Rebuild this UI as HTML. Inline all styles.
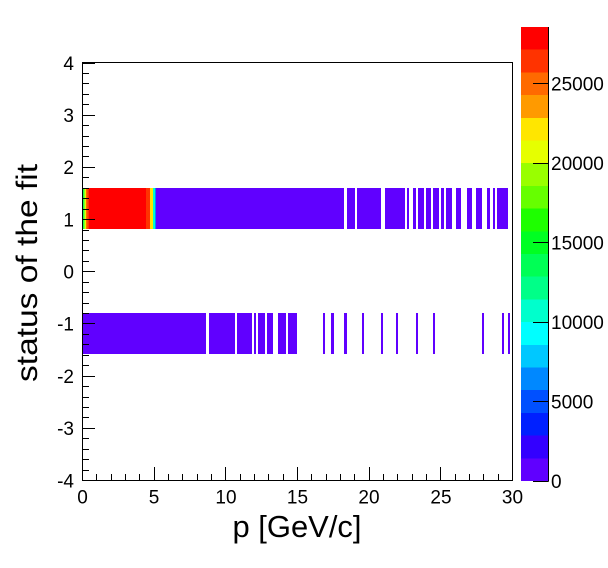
<!DOCTYPE html>
<html><head><meta charset="utf-8"><style>
html,body{margin:0;padding:0;background:#fff;}
svg{display:block;}
text{font-family:"Liberation Sans",Arial,sans-serif;fill:#000;}
</style></head><body>
<svg width="608" height="568" viewBox="0 0 608 568" xmlns="http://www.w3.org/2000/svg">
<rect x="0" y="0" width="608" height="568" fill="#fff"/>
<!-- upper band y 188-229 -->
<g shape-rendering="crispEdges">
<rect x="83" y="188" width="1.5" height="41" fill="#22ff44"/>
<rect x="84.5" y="188" width="1.5" height="41" fill="#e6ff00"/>
<rect x="86" y="188" width="1.5" height="41" fill="#ff6a00"/>
<rect x="87.5" y="188" width="1.5" height="41" fill="#ff3300"/>
<rect x="89" y="188" width="57" height="41" fill="#ff0000"/>
<rect x="146" y="188" width="4" height="41" fill="#ff3300"/>
<rect x="150" y="188" width="3" height="41" fill="#ffe600"/>
<rect x="153" y="188" width="2" height="41" fill="#00ffcc"/>
<rect x="155" y="188" width="1" height="41" fill="#0088ff"/>
<g fill="#6000ff">
<rect x="156" y="188" width="188" height="41"/>
<rect x="347" y="188" width="8" height="41"/>
<rect x="357" y="188" width="24" height="41"/>
<rect x="385" y="188" width="20" height="41"/>
<rect x="407" y="188" width="2" height="41"/>
<rect x="413" y="188" width="3" height="41"/>
<rect x="418" y="188" width="6" height="41"/>
<rect x="426" y="188" width="5" height="41"/>
<rect x="433" y="188" width="6" height="41"/>
<rect x="441" y="188" width="3" height="41"/>
<rect x="446" y="188" width="6" height="41"/>
<rect x="456" y="188" width="5" height="41"/>
<rect x="467" y="188" width="5" height="41"/>
<rect x="476" y="188" width="6" height="41"/>
<rect x="487" y="188" width="3" height="41"/>
<rect x="493" y="188" width="2" height="41"/>
<rect x="497" y="188" width="11" height="41"/>
<!-- lower band -->
<rect x="83" y="313" width="123" height="41"/>
<rect x="209" y="313" width="26" height="41"/>
<rect x="237" y="313" width="15" height="41"/>
<rect x="254" y="313" width="2" height="41"/>
<rect x="258" y="313" width="7" height="41"/>
<rect x="267" y="313" width="6" height="41"/>
<rect x="278" y="313" width="8" height="41"/>
<rect x="288" y="313" width="9" height="41"/>
<rect x="323" y="313" width="2" height="41"/>
<rect x="331" y="313" width="3" height="41"/>
<rect x="344" y="313" width="3" height="41"/>
<rect x="362" y="313" width="2" height="41"/>
<rect x="381" y="313" width="2" height="41"/>
<rect x="396" y="313" width="2" height="41"/>
<rect x="416" y="313" width="2" height="41"/>
<rect x="433" y="313" width="2" height="41"/>
<rect x="482" y="313" width="2" height="41"/>
<rect x="502" y="313" width="2" height="41"/>
<rect x="508" y="313" width="2" height="41"/>
</g>
</g>
<!-- frame -->
<rect x="82.5" y="62.5" width="430" height="418" fill="none" stroke="#000" stroke-width="1"/>
<!-- y ticks -->
<path stroke="#000" stroke-width="1" fill="none" d="
M82 63.5H95 M82 73.5H89 M82 83.5H89 M82 94.5H89 M82 104.5H89
M82 115.5H95 M82 125.5H89 M82 136.5H89 M82 146.5H89 M82 156.5H89
M82 167.5H95 M82 177.5H89 M82 188.5H89 M82 198.5H89 M82 209.5H89
M82 219.5H95 M82 230.5H89 M82 240.5H89 M82 250.5H89 M82 261.5H89
M82 271.5H95 M82 282.5H89 M82 292.5H89 M82 303.5H89 M82 313.5H89
M82 323.5H95 M82 334.5H89 M82 344.5H89 M82 355.5H89 M82 365.5H89
M82 376.5H95 M82 386.5H89 M82 397.5H89 M82 407.5H89 M82 417.5H89
M82 428.5H95 M82 438.5H89 M82 449.5H89 M82 459.5H89 M82 470.5H89
"/>
<!-- x ticks -->
<path stroke="#000" stroke-width="1" fill="none" d="
M82.5 481V467 M96.5 481V474 M111.5 481V474 M125.5 481V474 M139.5 481V474
M154.5 481V467 M168.5 481V474 M182.5 481V474 M197.5 481V474 M211.5 481V474
M225.5 481V467 M240.5 481V474 M254.5 481V474 M268.5 481V474 M283.5 481V474
M297.5 481V467 M311.5 481V474 M326.5 481V474 M340.5 481V474 M354.5 481V474
M369.5 481V467 M383.5 481V474 M397.5 481V474 M412.5 481V474 M426.5 481V474
M440.5 481V467 M455.5 481V474 M469.5 481V474 M483.5 481V474 M498.5 481V474
M512.5 481V467
"/>
<!-- y labels -->
<g font-size="19" text-anchor="end">
<text x="74" y="70">4</text>
<text x="74" y="122">3</text>
<text x="74" y="174">2</text>
<text x="74" y="226.5">1</text>
<text x="74" y="278.5">0</text>
<text x="74" y="330.5">-1</text>
<text x="74" y="383">-2</text>
<text x="74" y="435">-3</text>
<text x="74" y="487.5">-4</text>
</g>
<!-- x labels -->
<g font-size="19" text-anchor="middle">
<text x="82.5" y="503.5">0</text>
<text x="154" y="503.5">5</text>
<text x="226" y="503.5">10</text>
<text x="297.5" y="503.5">15</text>
<text x="369" y="503.5">20</text>
<text x="441" y="503.5">25</text>
<text x="512.5" y="503.5">30</text>
</g>
<!-- titles -->
<text x="297" y="537" font-size="31" text-anchor="middle" textLength="129" lengthAdjust="spacingAndGlyphs">p [GeV/c]</text>
<text transform="translate(37,273) rotate(-90)" font-size="30" text-anchor="middle" textLength="218" lengthAdjust="spacingAndGlyphs">status of the fit</text>
<!-- palette -->
<g shape-rendering="crispEdges">
<rect x="521" y="27" width="27" height="22.7" fill="#ff0000"/>
<rect x="521" y="49.7" width="27" height="22.7" fill="#ff3300"/>
<rect x="521" y="72.4" width="27" height="22.7" fill="#ff6a00"/>
<rect x="521" y="95.1" width="27" height="22.7" fill="#ff9a00"/>
<rect x="521" y="117.8" width="27" height="22.7" fill="#ffe600"/>
<rect x="521" y="140.5" width="27" height="22.7" fill="#e6ff00"/>
<rect x="521" y="163.2" width="27" height="22.7" fill="#99ff00"/>
<rect x="521" y="185.9" width="27" height="22.7" fill="#66ff00"/>
<rect x="521" y="208.6" width="27" height="22.7" fill="#1eff00"/>
<rect x="521" y="231.3" width="27" height="22.7" fill="#00ff22"/>
<rect x="521" y="254" width="27" height="22.7" fill="#00ff55"/>
<rect x="521" y="276.7" width="27" height="22.7" fill="#00ff88"/>
<rect x="521" y="299.4" width="27" height="22.7" fill="#00ffcc"/>
<rect x="521" y="322.1" width="27" height="22.7" fill="#00ffff"/>
<rect x="521" y="344.8" width="27" height="22.7" fill="#00c8ff"/>
<rect x="521" y="367.5" width="27" height="22.7" fill="#0088ff"/>
<rect x="521" y="390.2" width="27" height="22.7" fill="#0050ff"/>
<rect x="521" y="412.9" width="27" height="22.7" fill="#0020ff"/>
<rect x="521" y="435.6" width="27" height="22.7" fill="#3300ff"/>
<rect x="521" y="458.3" width="27" height="22.7" fill="#6000ff"/>
</g>
<path stroke="#000" stroke-width="1" fill="none" d="M548.5 27V481.5 M533 481.5H548.5 M533 401.5H548.5 M533 322.5H548.5 M533 242.5H548.5 M533 163.5H548.5 M533 83.5H548.5"/>
<g font-size="19" text-anchor="start">
<text x="551" y="488">0</text>
<text x="551" y="408.5">5000</text>
<text x="551" y="329">10000</text>
<text x="551" y="249.5">15000</text>
<text x="551" y="170">20000</text>
<text x="551" y="90.5">25000</text>
</g>
</svg>
</body></html>
